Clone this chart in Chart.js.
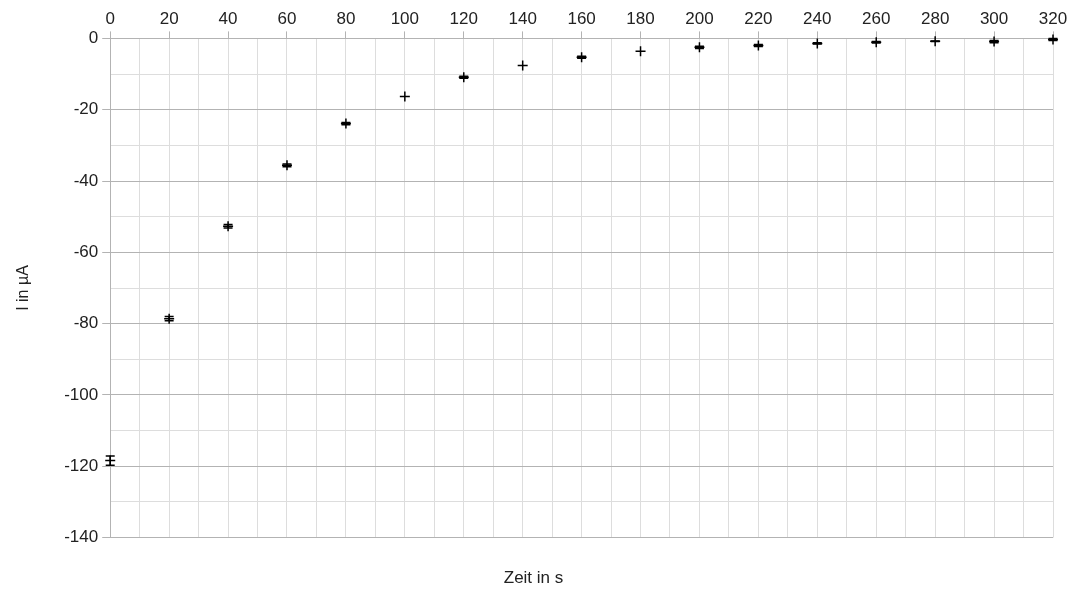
<!DOCTYPE html>
<html>
<head>
<meta charset="utf-8">
<script src="https://cdn.jsdelivr.net/npm/chart.js@4/dist/chart.umd.min.js"></script>
<style>
  html,body{margin:0;padding:0;background:#fff;}
  #wrap{width:1076px;height:591px;}
</style>
</head>
<body>
<div id="wrap"><canvas id="myChart"></canvas></div>
<script>
var zeit = [0,20,40,60,80,100,120,140,160,180,200,220,240,260,280,300,320];
var strom = [-118.4,-78.6,-52.7,-35.6,-23.9,-16.3,-10.9,-7.6,-5.3,-3.6,-2.5,-2.0,-1.4,-1.1,-0.8,-0.9,-0.3];
var fehler = [1.3,0.6,0.5,0.4,0.3,0,0.3,0,0.3,0,0.3,0.3,0.2,0.2,0.1,0.3,0.3];
var xTicks = [0,20,40,60,80,100,120,140,160,180,200,220,240,260,280,300,320];
var yTicks = [0,-20,-40,-60,-80,-100,-120,-140];

// vertical error bars with caps
var errorBars={
  id:'errorBars',
  afterDatasetsDraw:function(chart){
    var ctx=chart.ctx,x=chart.scales.x,y=chart.scales.y;
    ctx.save();
    ctx.strokeStyle='#000';
    ctx.lineWidth=1.5;
    for(var i=0;i<zeit.length;i++){
      if(!fehler[i])continue;
      var px=x.getPixelForValue(zeit[i]);
      var top=y.getPixelForValue(strom[i]+fehler[i]);
      var bot=y.getPixelForValue(strom[i]-fehler[i]);
      ctx.beginPath();
      ctx.moveTo(px,top);ctx.lineTo(px,bot);
      ctx.moveTo(px-4.5,top);ctx.lineTo(px+4.5,top);
      ctx.moveTo(px-4.5,bot);ctx.lineTo(px+4.5,bot);
      ctx.stroke();
    }
    ctx.restore();
  }
};

function isMajor(v,step){return Math.abs(v%step)<1e-9;}

var ctx=document.getElementById('myChart');
var myChart=new Chart(ctx,{
  type:'scatter',
  data:{
    datasets:[{
      label:'I',
      data:zeit.map(function(t,i){return {x:t,y:strom[i]};}),
      pointStyle:'cross',
      pointRadius:5,
      pointBorderWidth:1.5,
      borderColor:'#000',
      backgroundColor:'#000',
      clip:false
    }]
  },
  options:{
    responsive:true,
    maintainAspectRatio:false,
    animation:false,
    layout:{padding:{left:14,right:23,top:7,bottom:2}},
    plugins:{
      legend:{display:false},
      tooltip:{enabled:false},
      title:{
        display:true,
        text:'Zeit in s',
        position:'bottom',
        color:'#222',
        font:{family:'Liberation Sans',size:17,weight:'normal'},
        padding:{top:31,bottom:0}
      }
    },
    scales:{
      x:{
        type:'linear',
        position:'top',
        min:0,max:320,
        afterBuildTicks:function(s){
          var t=[];for(var v=0;v<=320;v+=10)t.push({value:v});s.ticks=t;
        },
        ticks:{
          autoSkip:false,maxRotation:0,
          color:'#222',
          font:{family:'Liberation Sans',size:17},
          padding:2,
          callback:function(v){return xTicks.indexOf(v)>=0?String(v):'';}
        },
        grid:{
          color:'#dddddd',
          tickColor:function(c){return c.tick&&isMajor(c.tick.value,20)?'#b3b3b3':'rgba(0,0,0,0)';},
          tickLength:7,
          lineWidth:1
        },
        border:{color:'#b3b3b3'}
      },
      y:{
        min:-140,max:0,
        afterBuildTicks:function(s){
          var t=[];for(var v=-140;v<=0;v+=10)t.push({value:v});s.ticks=t;
        },
        ticks:{
          color:'#222',
          font:{family:'Liberation Sans',size:17},
          padding:4,
          callback:function(v){return yTicks.indexOf(v)>=0?String(v):'';}
        },
        grid:{
          color:function(c){return c.tick&&isMajor(c.tick.value,20)?'#b3b3b3':'#dddddd';},
          tickColor:function(c){return c.tick&&isMajor(c.tick.value,20)?'#b3b3b3':'rgba(0,0,0,0)';},
          tickLength:8,
          lineWidth:1
        },
        border:{color:'#b3b3b3'},
        title:{
          display:true,
          text:'I in µA',
          color:'#222',
          font:{family:'Liberation Sans',size:16},
          padding:{top:0,bottom:27}
        }
      }
    }
  },
  plugins:[errorBars]
});
</script>
</body>
</html>
